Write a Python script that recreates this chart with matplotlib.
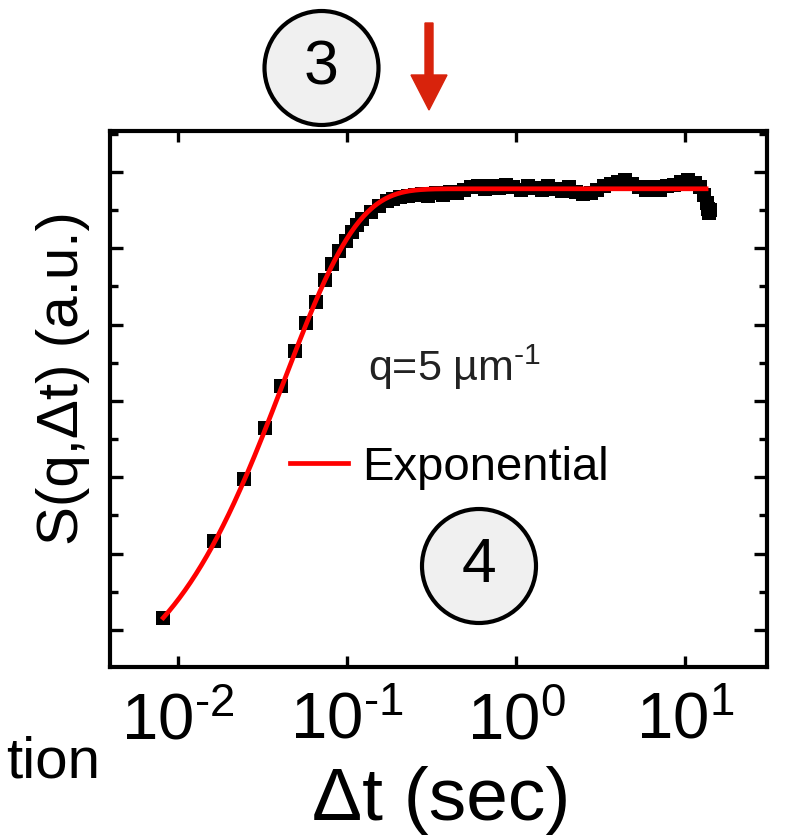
import numpy as np
import matplotlib
matplotlib.use("Agg")
import matplotlib.pyplot as plt
from matplotlib.ticker import LogLocator, MultipleLocator, FuncFormatter, NullFormatter
from matplotlib.patches import Circle, FancyArrow

plt.rcParams["font.family"] = ["Liberation Sans", "DejaVu Sans"]
plt.rcParams["axes.unicode_minus"] = False

# Measured structure function: lag (frames) and S(q, dt) in arbitrary units
FRAME_TIME = 0.00818  # seconds per frame
LAG_FRAMES = [1, 2, 3, 4, 5, 6, 7, 8, 9, 10, 11, 12, 13, 14, 15, 17, 19, 21, 23, 25,
              28, 31, 34, 37, 41, 45, 50, 55, 60, 66, 73, 80, 88, 97, 107, 118, 130,
              143, 157, 173, 190, 209, 230, 253, 278, 306, 337, 370, 407, 448, 493,
              542, 596, 656, 721, 793, 873, 960, 1056, 1162, 1278, 1406, 1500, 1580,
              1640, 1680, 1700, 1715]
S_VALUES = [0.16, 1.16, 1.98, 2.65, 3.20, 3.66, 4.02, 4.30, 4.58, 4.80, 4.96, 5.10,
            5.21, 5.31, 5.39, 5.48, 5.56, 5.62, 5.65, 5.67, 5.68, 5.70, 5.71, 5.69,
            5.72, 5.70, 5.74, 5.73, 5.77, 5.80, 5.81, 5.78, 5.82, 5.79, 5.83, 5.80,
            5.77, 5.82, 5.79, 5.76, 5.81, 5.78, 5.75, 5.80, 5.74, 5.71, 5.73, 5.77,
            5.81, 5.84, 5.87, 5.89, 5.84, 5.80, 5.77, 5.80, 5.76, 5.81, 5.83, 5.87,
            5.89, 5.85, 5.80, 5.70, 5.60, 5.52, 5.46, 5.50]

# Exponential fit: S = BASE + AMP * (1 - exp(-dt / TAU))
FIT_BASE = -1.03
FIT_AMP = 6.81
FIT_TAU = 0.0426   # s
FIT_RANGE = (0.00818, 13.3)

X_TICKS = [1e-2, 1e-1, 1e0, 1e1]

t_data = np.array(LAG_FRAMES) * FRAME_TIME
s_data = np.array(S_VALUES)
t_fit = np.logspace(np.log10(FIT_RANGE[0]), np.log10(FIT_RANGE[1]), 400)
s_fit = FIT_BASE + FIT_AMP * (1.0 - np.exp(-t_fit / FIT_TAU))

W, H = 791, 835
fig = plt.figure(figsize=(W / 100, H / 100), dpi=100)
ax = fig.add_axes([110 / W, 1 - 667 / H, (767 - 110) / W, (667 - 131) / H])

ax.plot(t_data, s_data, linestyle="none", marker="s", markersize=9.5,
        markeredgewidth=0, color="black", zorder=2)
ax.plot(t_fit, s_fit, color="#ff0000", linewidth=3.4, label="Exponential", zorder=3)

ax.set_xscale("log")
ax.set_xlim(0.00396, 30.5)
ax.set_ylim(-0.485, 6.537)

ax.xaxis.set_major_locator(LogLocator(base=10, subs=(1.0,)))
ax.xaxis.set_minor_locator(LogLocator(base=10, subs=np.arange(2, 10)))
ax.xaxis.set_minor_formatter(NullFormatter())
ax.set_xticks(X_TICKS)
ax.xaxis.set_major_formatter(
    FuncFormatter(lambda v, p: "$\\mathregular{10^{%s}}$"
                  % str(int(round(np.log10(v)))).replace("-", "\u2010")))
ax.yaxis.set_major_locator(MultipleLocator(1))
ax.yaxis.set_minor_locator(MultipleLocator(0.5))
ax.yaxis.set_major_formatter(NullFormatter())

for side in ax.spines.values():
    side.set_linewidth(3.0)
ax.tick_params(axis="both", which="both", direction="in", top=True, right=True, width=2.4)
ax.tick_params(axis="x", which="major", length=8, pad=18, labelsize=47)
ax.tick_params(axis="x", which="minor", length=4.5)
ax.tick_params(axis="y", which="major", length=9.5)
ax.tick_params(axis="y", which="minor", length=6)

ax.set_xlabel("Δt (sec)", fontsize=54)
ax.xaxis.set_label_coords((441 - 110) / 657, (667 - 766) / 536)
ax.set_ylabel("S(q,Δt) (a.u.)", fontsize=42)
ax.yaxis.set_label_coords((90 - 110) / 657, (667 - 378) / 536)

ax.text((368 - 110) / 657, (667 - 381) / 536, "q=5 µm$^{\\mathregular{\u20101}}$",
        transform=ax.transAxes, fontsize=31, color="#222222", va="baseline", ha="left")

ax.legend(loc="center left", bbox_to_anchor=((290 - 110) / 657, (667 - 468) / 536),
          frameon=False, fontsize=34, handlelength=1.22, handletextpad=0.3,
          borderpad=0, borderaxespad=0)

# Callout markers drawn in figure inches
def badge(cx, cy, r, label):
    fig.add_artist(Circle((cx / 100, (H - cy) / 100), r / 100,
                          transform=fig.dpi_scale_trans, facecolor="#f0f0f0",
                          edgecolor="black", linewidth=3.0, zorder=5))
    fig.text(cx / W, 1 - cy / H, label, fontsize=45, ha="center", va="center",
             color="black", zorder=6)

badge(321.5, 68, 57, "3")
badge(479, 566, 57, "4")

fig.add_artist(FancyArrow(429 / 100, (H - 23) / 100, 0, -(110 - 23) / 100,
                          width=0.08, head_width=0.36, head_length=0.35,
                          length_includes_head=True, color="#d8230c",
                          transform=fig.dpi_scale_trans, zorder=5))

fig.text(100 / W, 1 - 777 / H, "tion", fontsize=42, ha="right", va="baseline")

fig.savefig("out.png", dpi=100)
